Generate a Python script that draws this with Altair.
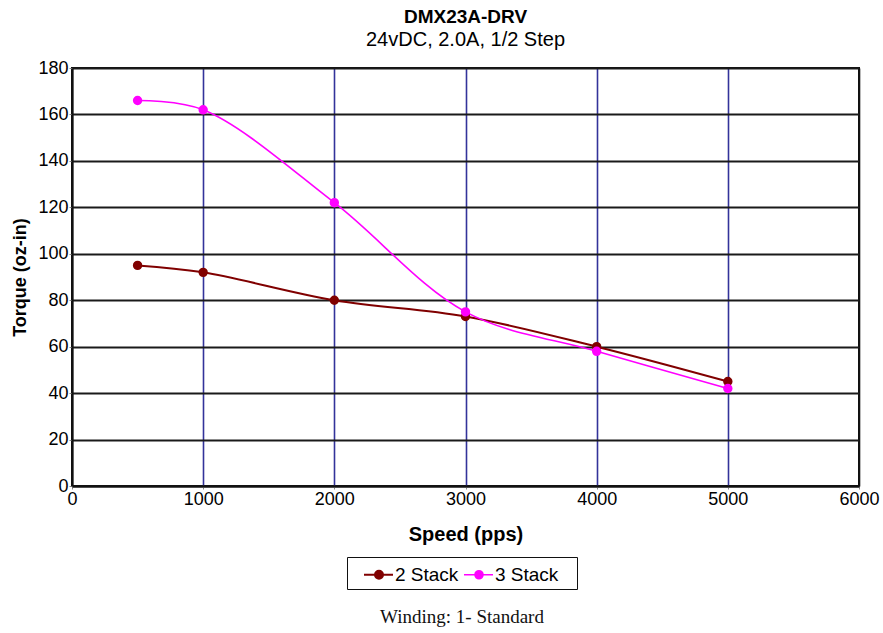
import altair as alt
import pandas as pd

speed = [500, 1000, 2000, 3000, 4000, 5000]
stack2 = [95, 92, 80, 73, 60, 45]
stack3 = [166, 162, 122, 75, 58, 42]
series_names = ["2 Stack", "3 Stack"]
series_colors = ["#800000", "#ff00ff"]
x_ticks = [0, 1000, 2000, 3000, 4000, 5000, 6000]
y_ticks = [0, 20, 40, 60, 80, 100, 120, 140, 160, 180]
title_text = "DMX23A-DRV"
subtitle_text = "24vDC, 2.0A, 1/2 Step"
footer_text = "Winding: 1- Standard"

rows = []
for s, a, b in zip(speed, stack2, stack3):
    rows.append({"speed": s, "torque": a, "series": series_names[0]})
    rows.append({"speed": s, "torque": b, "series": series_names[1]})
df = pd.DataFrame(rows)

FONT = "Liberation Sans"
W, H = 787, 418
PL, PT = 72, 68
PR = 883 - PL - W
PB = 633 - PT - H

stroke_scale = alt.Scale(domain=series_names, range=series_colors)

x_enc = alt.X(
    "speed:Q",
    scale=alt.Scale(domain=[0, 6000], nice=False),
    axis=alt.Axis(
        values=x_ticks,
        format="d",
        title="Speed (pps)",
        titleFont=FONT,
        titleFontSize=20,
        titleFontWeight="bold",
        titleColor="black",
        titlePadding=16,
        labelFont=FONT,
        labelFontSize=18,
        labelColor="black",
        labelPadding=1,
        labelFlush=False,
        tickSize=3,
        tickColor="#888888",
        domainColor="#111111",
        domainWidth=2,
        grid=True,
        gridColor={"condition": {"test": "datum.value === 0 || datum.value === 6000", "value": "#111111"}, "value": "#33339a"},
        gridWidth=1.6,
        gridOpacity=1,
    ),
)
y_enc = alt.Y(
    "torque:Q",
    scale=alt.Scale(domain=[0, 180], nice=False),
    axis=alt.Axis(
        values=y_ticks,
        format="d",
        title="Torque (oz-in)",
        titleFont=FONT,
        titleFontSize=18,
        titleFontWeight="bold",
        titleColor="black",
        titlePadding=8,
        labelFont=FONT,
        labelFontSize=18,
        labelColor="black",
        labelPadding=1,
        labelFlush=False,
        tickSize=3,
        tickColor="#888888",
        domainColor="#111111",
        domainWidth=2,
        grid=True,
        gridColor="#1a1a1a",
        gridWidth=2,
        gridOpacity=1,
    ),
)

# legend symbol: short line with a dot
sym = "M-1,0H1.32M-0.12,0A0.32,0.32,0,1,1,0.52,0A0.32,0.32,0,1,1,-0.12,0Z"
legend = alt.Legend(
    title="\u00a0",
    titleOrient="left",
    titleFontSize=10,
    titlePadding=12,
    orient="none",
    legendX=275,
    legendY=489,
    direction="horizontal",
    columns=2,
    symbolType=sym,
    symbolSize=625,
    symbolStrokeWidth=1.6,
    labelFont=FONT,
    labelFontSize=19,
    labelColor="black",
    labelOffset=5,
    labelExpr="datum.label == '3 Stack' ? datum.label + '\u2800' : datum.label",
    columnPadding=1,
    padding=4,
    strokeColor="#111111",
    cornerRadius=0,
    fillColor="white",
)

base = alt.Chart(df)
lines = base.mark_line(interpolate="catmull-rom").encode(
    x=x_enc,
    y=y_enc,
    stroke=alt.Stroke("series:N", scale=stroke_scale, legend=legend),
    strokeWidth=alt.StrokeWidth("series:N", scale=alt.Scale(domain=series_names, range=[2, 1.6]), legend=None),
)
points = base.mark_point(filled=True, size=55, opacity=1).encode(
    x="speed:Q",
    y="torque:Q",
    fill=alt.Fill("series:N", scale=stroke_scale, legend=legend),
    stroke=alt.Stroke("series:N", scale=stroke_scale, legend=legend),
)

footer = alt.Chart(pd.DataFrame({"t": [footer_text]})).mark_text(
    font="Liberation Serif", fontSize=19, color="#111111", align="center", baseline="alphabetic"
).encode(text="t:N", x=alt.value(390), y=alt.value(555))

chart = alt.layer(lines, points, footer).properties(
    width=W,
    height=H,
    title=alt.TitleParams(
        text=title_text,
        subtitle=subtitle_text,
        font=FONT,
        fontSize=19,
        fontWeight="bold",
        color="black",
        subtitleFont=FONT,
        subtitleFontSize=20,
        subtitleColor="black",
        subtitlePadding=3,
        anchor="middle",
        offset=9,
    ),
    autosize=alt.AutoSizeParams(type="none"),
    padding={"left": PL, "top": PT, "right": PR, "bottom": PB},
    background="white",
).configure_view(stroke="#111111", strokeWidth=2)

chart.save("out.html", embed_options={"renderer": "svg", "actions": False})
